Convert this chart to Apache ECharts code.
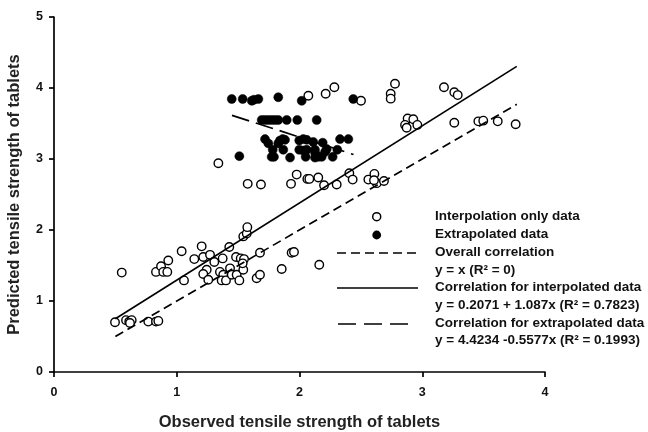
<!DOCTYPE html>
<html>
<head>
<meta charset="utf-8">
<script src="https://cdn.jsdelivr.net/npm/echarts@6/dist/echarts.min.js"></script>
<style>html,body{margin:0;padding:0;background:#fff;}#c{width:648px;height:432px;}</style>
</head>
<body>
<div id="c"></div>
<script>
// Interpolation only data (open circles) [observed, predicted]
const interpolationData = [
  [0.497,0.70],[0.552,1.40],[0.587,0.73],[0.613,0.71],[0.633,0.73],[0.619,0.69],[0.768,0.71],[0.831,0.71],[0.85,0.72],
  [0.831,1.41],[0.872,1.49],[0.89,1.41],[0.931,1.57],[0.923,1.41],[1.04,1.70],[1.059,1.29],[1.143,1.59],[1.203,1.77],
  [1.216,1.62],[1.271,1.65],[1.244,1.44],[1.216,1.38],[1.257,1.30],[1.306,1.55],[1.352,1.41],[1.374,1.60],[1.379,1.37],
  [1.366,1.29],[1.401,1.29],[1.428,1.76],[1.434,1.46],[1.448,1.37],[1.483,1.62],[1.488,1.37],[1.51,1.29],[1.521,1.60],
  [1.542,1.44],[1.548,1.59],[1.537,1.53],[1.542,1.91],[1.57,1.95],[1.575,2.04],[1.651,1.32],[1.678,1.37],[1.678,1.68],
  [1.855,1.45],[1.936,1.68],[1.955,1.69],[2.161,1.51],
  [1.339,2.94],[1.578,2.65],[1.686,2.64],[1.931,2.65],[1.977,2.78],[2.064,2.72],[2.08,2.72],[2.153,2.74],[2.2,2.63],
  [2.303,2.64],[2.406,2.80],[2.433,2.71],[2.561,2.71],[2.61,2.79],[2.629,2.66],[2.607,2.70],[2.688,2.69],
  [2.072,3.89],[2.213,3.92],[2.284,4.01],[2.501,3.82],[2.743,3.92],[2.743,3.85],[2.778,4.06],[3.177,4.01],[3.261,3.94],
  [3.289,3.90],[2.881,3.57],[2.927,3.56],[2.86,3.48],[2.873,3.44],[2.96,3.48],[3.261,3.51],[3.457,3.53],[3.497,3.54],
  [3.615,3.53],[3.761,3.49]
];
// Extrapolated data (filled circles)
const extrapolatedData = [
  [1.448,3.845],[1.537,3.845],[1.611,3.82],[1.629,3.835],[1.665,3.845],[1.827,3.87],[2.018,3.82],[2.438,3.845],
  [1.692,3.55],[1.719,3.55],[1.746,3.55],[1.773,3.55],[1.800,3.55],[1.827,3.55],[1.896,3.55],[1.982,3.55],[2.140,3.55],
  [1.719,3.28],[1.746,3.22],[1.827,3.22],[1.841,3.26],[1.863,3.28],[1.882,3.27],[1.998,3.26],[2.031,3.28],[2.059,3.27],
  [2.112,3.24],[2.189,3.23],[2.33,3.28],[2.398,3.28],
  [1.782,3.13],[1.868,3.13],[1.998,3.13],[2.031,3.12],[2.059,3.13],[2.126,3.13],[2.222,3.14],[2.308,3.13],[2.126,3.09],[2.208,3.10],
  [1.51,3.04],[1.773,3.03],[1.792,3.03],[1.923,3.02],[2.05,3.03],[2.126,3.02],[2.153,3.03],[2.181,3.03],[2.27,3.03]
];
// Fitted lines (endpoints)
const overallLine = [[0.5,0.5],[3.77,3.77]];
const interpolatedLine = [[0.5,0.751],[3.77,4.305]];
const extrapolatedLine = [[1.45,3.615],[2.44,3.063]];
// Axis ticks
const xTicks = [0,1,2,3,4];
const yTicks = [0,1,2,3,4,5];
// Legend texts
const legendTexts = [
  'Interpolation only data',
  'Extrapolated data',
  'Overall correlation',
  'y = x (R\u00B2 = 0)',
  'Correlation for interpolated data',
  'y = 0.2071 + 1.087x (R\u00B2 = 0.7823)',
  'Correlation for extrapolated data',
  'y = 4.4234 -0.5577x (R\u00B2 = 0.1993)'
];

const FONT = '"Liberation Sans", Arial, sans-serif';
const chart = echarts.init(document.getElementById('c'), null, {renderer: 'canvas'});

const legendGraphics = legendTexts.map((t, i) => ({
  type: 'text', x: 435, y: 216.7 + i * 17.7,
  style: {text: t, font: 'bold 13.5px ' + FONT, fill: '#111', verticalAlign: 'middle', align: 'left'}
}));
legendGraphics.push(
  {type: 'circle', shape: {cx: 376.7, cy: 216.7, r: 4}, style: {fill: '#fff', stroke: '#000', lineWidth: 1.5}},
  {type: 'circle', shape: {cx: 376.7, cy: 235, r: 4.4}, style: {fill: '#000'}},
  {type: 'line', shape: {x1: 337, y1: 253, x2: 420, y2: 253}, style: {stroke: '#000', lineWidth: 1.7, lineDash: [9, 5]}},
  {type: 'line', shape: {x1: 337, y1: 288, x2: 418, y2: 288}, style: {stroke: '#000', lineWidth: 1.7}},
  {type: 'line', shape: {x1: 338, y1: 324, x2: 410, y2: 324}, style: {stroke: '#000', lineWidth: 1.7, lineDash: [18, 8]}}
);

const axisCommon = {
  type: 'value', interval: 1,
  axisLine: {show: true, lineStyle: {color: '#000', width: 1.7}},
  axisTick: {show: true, inside: false, length: 5, lineStyle: {color: '#000', width: 1.7}},
  splitLine: {show: false},
  nameTextStyle: {fontFamily: FONT, fontSize: 16.5, fontWeight: 'bold', color: '#222'}
};

chart.setOption({
  animation: false,
  backgroundColor: '#fff',
  grid: {left: 54, right: 103, top: 17, bottom: 60, containLabel: false, outerBoundsMode: 'none'},
  xAxis: Object.assign({}, axisCommon, {
    min: xTicks[0], max: xTicks[xTicks.length - 1],
    name: 'Observed tensile strength of tablets', nameLocation: 'middle', nameGap: 42,
    axisLabel: {margin: 14, fontFamily: FONT, fontSize: 12.5, fontWeight: 'bold', color: '#111',
      formatter: v => xTicks.includes(v) ? String(v) : ''}
  }),
  yAxis: Object.assign({}, axisCommon, {
    min: yTicks[0], max: yTicks[yTicks.length - 1],
    name: 'Predicted tensile strength of tablets', nameLocation: 'middle', nameGap: 31,
    axisLabel: {margin: 11, fontFamily: FONT, fontSize: 12.5, fontWeight: 'bold', color: '#111',
      formatter: v => yTicks.includes(v) ? String(v) : ''}
  }),
  graphic: legendGraphics,
  series: [
    {type: 'scatter', name: 'Interpolation only data', data: interpolationData, symbol: 'circle', symbolSize: 8.5,
      itemStyle: {color: '#fff', borderColor: '#000', borderWidth: 1.4, opacity: 1}, z: 2},
    {type: 'scatter', name: 'Extrapolated data', data: extrapolatedData, symbol: 'circle', symbolSize: 9,
      itemStyle: {color: '#000', borderColor: '#000', borderWidth: 0.5, opacity: 1}, z: 2},
    {type: 'line', name: 'Overall correlation', data: overallLine, showSymbol: false, symbol: 'none',
      lineStyle: {color: '#000', width: 1.7, type: [9, 5]}, z: 3},
    {type: 'line', name: 'Correlation for interpolated data', data: interpolatedLine, showSymbol: false, symbol: 'none',
      lineStyle: {color: '#000', width: 1.7}, z: 3},
    {type: 'line', name: 'Correlation for extrapolated data', data: extrapolatedLine, showSymbol: false, symbol: 'none',
      lineStyle: {color: '#000', width: 1.7, type: [18, 7]}, z: 3}
  ]
});
</script>
</body>
</html>
